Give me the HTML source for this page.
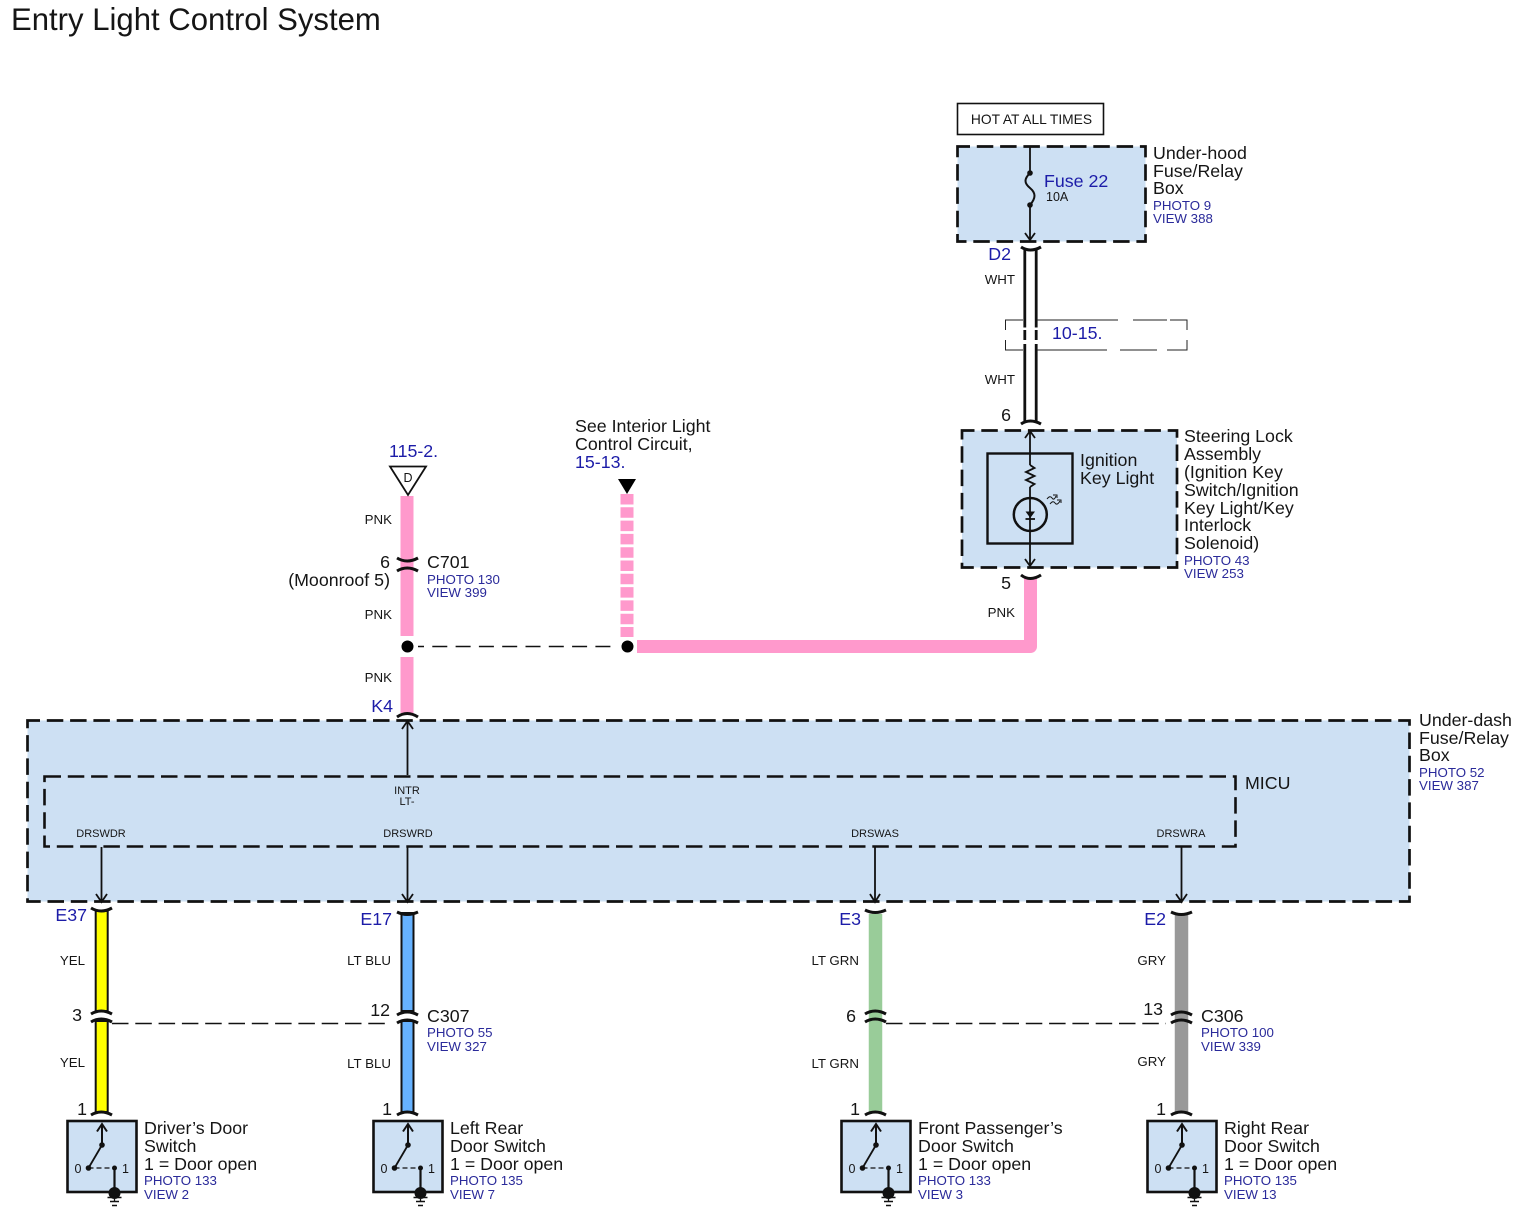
<!DOCTYPE html>
<html><head><meta charset="utf-8"><style>
html,body{margin:0;padding:0;background:#fff;width:1518px;height:1214px;overflow:hidden}
svg{display:block}
text{font-family:"Liberation Sans",sans-serif;fill:#151515}
.n{font-size:17.8px}.s{font-size:13.3px}.b{font-size:17.8px;fill:#1c1ca8}.p{font-size:13.3px;fill:#2a2a9a}.t{font-size:11px}
.box{fill:#cde0f3;stroke:#111;stroke-width:2.7;stroke-dasharray:16.5 6.8;stroke-dashoffset:4}
.thin{fill:none;stroke:#111;stroke-width:1.8}
.cap{fill:none;stroke:#111;stroke-width:3}
.m{text-anchor:middle}.e{text-anchor:end}
</style></head><body>
<svg width="1518" height="1214" viewBox="0 0 1518 1214" xmlns="http://www.w3.org/2000/svg">
<defs>
<g id="sw">
<rect x="0" y="0" width="69" height="71" fill="#cde0f3" stroke="#111" stroke-width="2.6"/>
<path d="M34.500 24V4M29.500 10.500L34.500 3L39.500 10.500" class="thin" style="stroke-width:2"/>
<path d="M34.500 24L21 47" class="thin"/>
<path d="M21 47H47" fill="none" stroke="#111" stroke-width="1.2" stroke-dasharray="5 3"/>
<circle cx="34.500" cy="24" r="2.800" fill="#111"/><circle cx="21" cy="47" r="2.800" fill="#111"/><circle cx="47" cy="47" r="2.500" fill="#111"/>
<path d="M47 47V72" fill="none" stroke="#111" stroke-width="2.200"/>
<circle cx="47" cy="72" r="6" fill="#111"/>
<path d="M47 78V80" fill="none" stroke="#111" stroke-width="1.300"/>
<path d="M40 76.500H54M42.500 80.500H51.500M44.500 84.500H49.500" fill="none" stroke="#111" stroke-width="1.400"/>
</g>
</defs>

<text x="11" y="30" style="font-size:31.1px">Entry Light Control System</text>

<!-- Hot at all times -->
<rect x="957.500" y="103.500" width="146" height="31" fill="#fff" stroke="#111" stroke-width="1.600"/>
<text x="1031.500" y="124" class="m" style="font-size:13.800px">HOT AT ALL TIMES</text>

<!-- Under-hood box -->
<rect x="957.500" y="146.500" width="188" height="95" class="box"/>
<path d="M1030 147V173M1030 205V240M1025 233L1030 240L1035 233" class="thin"/>
<path d="M1030 173C1024 179 1024 183 1030 188C1036 193 1036 198 1030 205" fill="none" stroke="#111" stroke-width="2"/>
<circle cx="1030" cy="173" r="2.800" fill="#111"/><circle cx="1030" cy="205" r="2.800" fill="#111"/>
<text x="1044" y="187" class="b">Fuse 22</text>
<text x="1046" y="201" style="font-size:12.500px">10A</text>
<text x="1153" y="159" class="n">Under-hood</text>
<text x="1153" y="177" class="n">Fuse/Relay</text>
<text x="1153" y="194" class="n">Box</text>
<text x="1153" y="210" class="p">PHOTO 9</text>
<text x="1153" y="223" class="p">VIEW 388</text>

<!-- White wire -->
<path d="M1024.800 249V421M1036.200 249V421" fill="none" stroke="#111" stroke-width="2.800"/>
<rect x="1022" y="327.500" width="17" height="2.500" fill="#fff"/>
<rect x="1022" y="340" width="17" height="4" fill="#fff"/>
<path d="M1021 247Q1030 253 1041 247" class="cap"/>
<path d="M1021 424Q1030 418 1041 424" class="cap"/>
<text x="1011" y="260" class="b e">D2</text>
<text x="1015" y="284" class="s e">WHT</text>
<text x="1015" y="384" class="s e">WHT</text>
<text x="1011" y="421" class="n e">6</text>

<!-- 10-15 reference box -->
<path d="M1005.500 330V320H1023M1037 320H1118M1133 320H1167M1170 320H1187V330M1005.500 340V350H1023M1037 350H1107M1120 350H1157M1167 350H1187V340" fill="none" stroke="#222" stroke-width="1"/>
<text x="1052" y="339" class="b">10-15.</text>

<!-- Steering lock -->
<rect x="962" y="430.500" width="215" height="137" class="box"/>
<rect x="987.500" y="453.500" width="85" height="90" fill="none" stroke="#111" stroke-width="2.400"/>
<path d="M1030 431V465M1030 487V498M1030 530V566M1025 438L1030 431L1035 438M1025 559L1030 566L1035 559" class="thin"/>
<path d="M1030 465L1034.500 468L1026 472L1034.500 476L1026 480L1034.500 484L1030 487" class="thin"/>
<circle cx="1030.300" cy="514.500" r="16.500" fill="none" stroke="#111" stroke-width="2.500"/>
<path d="M1030 498V530" class="thin"/>
<path d="M1025.500 511.500H1035L1030.300 518Z" fill="#111"/><path d="M1025.500 519H1035" class="thin"/>
<path d="M1047 499Q1050 495 1052 498T1056 496M1053 495H1057V498M1050 504Q1053 500 1055 503T1060 501M1057 500H1061V503" fill="none" stroke="#111" stroke-width="1"/>
<text x="1080" y="466" class="n">Ignition</text>
<text x="1080" y="484" class="n">Key Light</text>
<text x="1184" y="442" class="n">Steering Lock</text>
<text x="1184" y="460" class="n">Assembly</text>
<text x="1184" y="478" class="n">(Ignition Key</text>
<text x="1184" y="496" class="n">Switch/Ignition</text>
<text x="1184" y="514" class="n">Key Light/Key</text>
<text x="1184" y="531" class="n">Interlock</text>
<text x="1184" y="549" class="n">Solenoid)</text>
<text x="1184" y="565" class="p">PHOTO 43</text>
<text x="1184" y="578" class="p">VIEW 253</text>

<!-- Pink wires -->
<path d="M1030.500 578V646.500H637" fill="none" stroke="#ff99cc" stroke-width="13" stroke-linejoin="round"/>
<path d="M1021 575Q1030 582 1041 575" class="cap"/>
<text x="1011" y="589" class="n e">5</text>
<text x="1015" y="617" class="s e">PNK</text>
<path d="M407 496V636M407 657V713" stroke="#ff99cc" stroke-width="13" fill="none"/>
<path d="M627 494V637" stroke="#ff99cc" stroke-width="13" stroke-dasharray="10.500 2.800" fill="none"/>
<path d="M418 646.500H612" fill="none" stroke="#111" stroke-width="1.600" stroke-dasharray="15 8.300" stroke-dashoffset="9"/>
<circle cx="407.500" cy="646.500" r="6" fill="#000"/>
<circle cx="627.500" cy="646.500" r="6" fill="#000"/>

<!-- D triangle -->
<path d="M390 466.500H426L408 495Z" fill="#fff" stroke="#111" stroke-width="1.800"/>
<text x="408" y="482" class="m" style="font-size:12.500px">D</text>
<text x="389" y="457" class="b">115-2.</text>
<path d="M618 479H636L627 494Z" fill="#000"/>
<text x="575" y="432" class="n">See Interior Light</text>
<text x="575" y="450" class="n">Control Circuit,</text>
<text x="575" y="468" class="b">15-13.</text>
<text x="392" y="524" class="s e">PNK</text>
<text x="392" y="619" class="s e">PNK</text>
<text x="392" y="682" class="s e">PNK</text>

<!-- C701 -->
<path d="M397 558Q407 564 418 558M397 571Q407 565 418 571" class="cap"/>
<text x="390" y="568" class="n e">6</text>
<text x="390" y="586" class="n e">(Moonroof 5)</text>
<text x="427" y="568" class="n">C701</text>
<text x="427" y="584" class="p">PHOTO 130</text>
<text x="427" y="597" class="p">VIEW 399</text>
<text x="393" y="712" class="b e">K4</text>
<path d="M397 717Q407 710 418 717" class="cap"/>

<!-- Under-dash box -->
<rect x="27.500" y="720.500" width="1382" height="181" class="box"/>
<rect x="44.500" y="776.500" width="1191" height="70" fill="none" stroke="#111" stroke-width="2.600" stroke-dasharray="16.500 6.800"/>
<text x="1419" y="726" class="n">Under-dash</text>
<text x="1419" y="744" class="n">Fuse/Relay</text>
<text x="1419" y="761" class="n">Box</text>
<text x="1419" y="777" class="p">PHOTO 52</text>
<text x="1419" y="790" class="p">VIEW 387</text>
<text x="1245" y="789" class="n">MICU</text>
<text x="407" y="794" class="m t">INTR</text>
<text x="407" y="805" class="m t">LT-</text>
<text x="101" y="837" class="m t">DRSWDR</text>
<text x="408" y="837" class="m t">DRSWRD</text>
<text x="875" y="837" class="m t">DRSWAS</text>
<text x="1181" y="837" class="m t">DRSWRA</text>
<path d="M407.500 775V722M402 729L407.500 721L413 729" class="thin"/>
<path d="M101.500 847V901M96 894L101.500 902L107 894" class="thin"/>
<path d="M407.500 847V901M402 894L407.500 902L413 894" class="thin"/>
<path d="M875 847V901M870 894L875 902L880 894" class="thin"/>
<path d="M1181.500 847V901M1176 894L1181.500 902L1187 894" class="thin"/>

<!-- Lower wires -->
<rect x="95.700" y="911" width="12" height="100" fill="#ffff00" stroke="#111" stroke-width="2"/>
<rect x="95.700" y="1021" width="12" height="91" fill="#ffff00" stroke="#111" stroke-width="2"/>
<rect x="401.500" y="913" width="12" height="98" fill="#66b2ff" stroke="#111" stroke-width="2"/>
<rect x="401.500" y="1021" width="12" height="91" fill="#66b2ff" stroke="#111" stroke-width="2"/>
<path d="M875.500 914V1112" stroke="#99cc99" stroke-width="13.500" fill="none"/>
<path d="M1181.500 914V1112" stroke="#999999" stroke-width="13.500" fill="none"/>
<path d="M91 908Q101 914 112 908M91 1014Q101 1008 112 1014M91 1022Q101 1016 112 1022M91 1115Q101 1109 112 1115" class="cap"/>
<path d="M397 912Q407 917 418 912M397 1015Q407 1009 418 1015M397 1023Q407 1017 418 1023M397 1115Q407 1109 418 1115" class="cap"/>
<path d="M865 910Q875 915 886 910M865 1014Q875 1008 886 1014M865 1022Q875 1016 886 1022M865 1115Q875 1109 886 1115" class="cap"/>
<path d="M1171 912Q1181 917 1192 912M1171 1015Q1181 1009 1192 1015M1171 1023Q1181 1017 1192 1023M1171 1115Q1181 1109 1192 1115" class="cap"/>
<path d="M112 1023.500H388M886 1023.500H1166" fill="none" stroke="#111" stroke-width="1.500" stroke-dasharray="16.500 6.800"/>

<text x="87" y="921" class="b e">E37</text>
<text x="392" y="925" class="b e">E17</text>
<text x="861" y="925" class="b e">E3</text>
<text x="1166" y="925" class="b e">E2</text>
<text x="85" y="965" class="s e">YEL</text>
<text x="85" y="1067" class="s e">YEL</text>
<text x="391" y="965" class="s e">LT BLU</text>
<text x="391" y="1068" class="s e">LT BLU</text>
<text x="859" y="965" class="s e">LT GRN</text>
<text x="859" y="1068" class="s e">LT GRN</text>
<text x="1166" y="965" class="s e">GRY</text>
<text x="1166" y="1066" class="s e">GRY</text>
<text x="82" y="1021" class="n e">3</text>
<text x="390" y="1016" class="n e">12</text>
<text x="856" y="1022" class="n e">6</text>
<text x="1163" y="1015" class="n e">13</text>
<text x="87" y="1115" class="n e">1</text>
<text x="392" y="1115" class="n e">1</text>
<text x="860" y="1115" class="n e">1</text>
<text x="1166" y="1115" class="n e">1</text>
<text x="427" y="1022" class="n">C307</text>
<text x="427" y="1037" class="p">PHOTO 55</text>
<text x="427" y="1051" class="p">VIEW 327</text>
<text x="1201" y="1022" class="n">C306</text>
<text x="1201" y="1037" class="p">PHOTO 100</text>
<text x="1201" y="1051" class="p">VIEW 339</text>

<!-- Switches -->
<use href="#sw" x="67.500" y="1121"/>
<use href="#sw" x="373.500" y="1121"/>
<use href="#sw" x="841.500" y="1121"/>
<use href="#sw" x="1147.500" y="1121"/>
<text x="74.500" y="1173" style="font-size:12.500px">0</text><text x="122" y="1173" style="font-size:12.500px">1</text>
<text x="380.500" y="1173" style="font-size:12.500px">0</text><text x="428" y="1173" style="font-size:12.500px">1</text>
<text x="848.500" y="1173" style="font-size:12.500px">0</text><text x="896" y="1173" style="font-size:12.500px">1</text>
<text x="1154.500" y="1173" style="font-size:12.500px">0</text><text x="1202" y="1173" style="font-size:12.500px">1</text>

<text x="144" y="1134" class="n">Driver’s Door</text>
<text x="144" y="1152" class="n">Switch</text>
<text x="144" y="1170" class="n">1 = Door open</text>
<text x="144" y="1185" class="p">PHOTO 133</text>
<text x="144" y="1199" class="p">VIEW 2</text>
<text x="450" y="1134" class="n">Left Rear</text>
<text x="450" y="1152" class="n">Door Switch</text>
<text x="450" y="1170" class="n">1 = Door open</text>
<text x="450" y="1185" class="p">PHOTO 135</text>
<text x="450" y="1199" class="p">VIEW 7</text>
<text x="918" y="1134" class="n">Front Passenger’s</text>
<text x="918" y="1152" class="n">Door Switch</text>
<text x="918" y="1170" class="n">1 = Door open</text>
<text x="918" y="1185" class="p">PHOTO 133</text>
<text x="918" y="1199" class="p">VIEW 3</text>
<text x="1224" y="1134" class="n">Right Rear</text>
<text x="1224" y="1152" class="n">Door Switch</text>
<text x="1224" y="1170" class="n">1 = Door open</text>
<text x="1224" y="1185" class="p">PHOTO 135</text>
<text x="1224" y="1199" class="p">VIEW 13</text>
</svg>
</body></html>
